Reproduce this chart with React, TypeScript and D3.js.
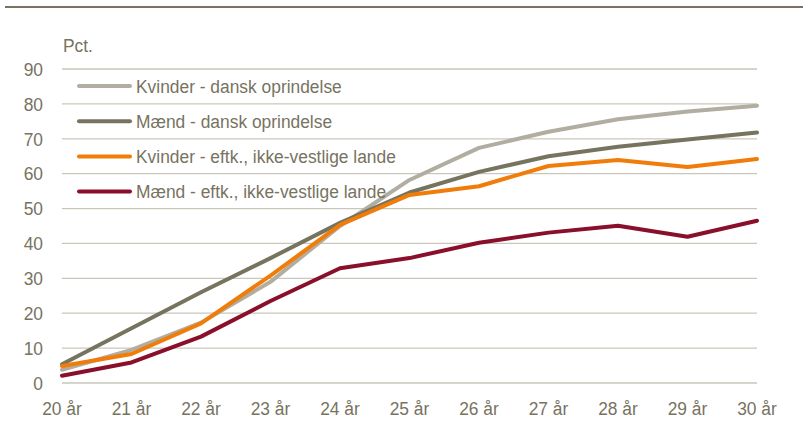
import React from "react";
import * as d3 from "d3";

const categories = ["20 år", "21 år", "22 år", "23 år", "24 år", "25 år", "26 år", "27 år", "28 år", "29 år", "30 år"];
const kvinderDansk = [3.8, 9.5, 17.3, 29.0, 45.0, 58.2, 67.4, 72.0, 75.6, 77.8, 79.5];
const maendDansk = [5.4, 15.7, 26.0, 35.8, 45.9, 54.6, 60.5, 65.0, 67.7, 69.8, 71.8];
const kvinderEftk = [4.9, 8.3, 17.1, 30.8, 45.3, 53.9, 56.4, 62.2, 63.9, 61.9, 64.2];
const maendEftk = [2.1, 5.9, 13.3, 23.5, 32.9, 35.8, 40.2, 43.1, 45.1, 41.9, 46.5];
const yTicks = [0, 10, 20, 30, 40, 50, 60, 70, 80, 90];

const series = [
  { name: "Kvinder - dansk oprindelse", values: kvinderDansk, color: "#b1aea1" },
  { name: "Mænd - dansk oprindelse", values: maendDansk, color: "#76745f" },
  { name: "Kvinder - eftk., ikke-vestlige lande", values: kvinderEftk, color: "#f07c0a" },
  { name: "Mænd - eftk., ikke-vestlige lande", values: maendEftk, color: "#8a0f2a" },
];

const W = 803;
const H = 432;
const textColor = "#77735f";
const font = "'Liberation Sans', Arial, sans-serif";
const SX = 0.915;

function T({ x, y, anchor = "start", size = 19, children }: { x: number; y: number; anchor?: string; size?: number; children: React.ReactNode }) {
  return (
    <text
      transform={`translate(${x},${y}) scale(${SX},1)`}
      textAnchor={anchor}
      fontFamily={font}
      fontSize={size}
      fill={textColor}
    >
      {children}
    </text>
  );
}

export default function App() {
  const x = d3.scalePoint<string>().domain(categories).range([62, 757]);
  const y = d3.scaleLinear().domain([0, 90]).range([383, 69]);
  const line = d3
    .line<number>()
    .x((_, i) => x(categories[i]) as number)
    .y((d) => y(d));

  return (
    <svg width={W} height={H} style={{ position: "absolute", left: 0, top: 0, background: "#fff" }}>
      <line x1={5} x2={803} y1={7} y2={7} stroke={textColor} strokeWidth={2} />
      <T x={63} y={52}>Pct.</T>
      {yTicks.map((t) => (
        <g key={t}>
          <line x1={62} x2={757} y1={y(t)} y2={y(t)} stroke="#c9c7bb" strokeWidth={1.3} />
          <T x={43} y={y(t) + 6.8} anchor="end">{String(t)}</T>
        </g>
      ))}
      {categories.map((c) => (
        <T key={c} x={x(c) as number} y={415} anchor="middle">{c}</T>
      ))}
      {series.map((s) => (
        <path key={s.name} d={line(s.values) || ""} fill="none" stroke={s.color} strokeWidth={4} strokeLinejoin="round" strokeLinecap="round" />
      ))}
      {series.map((s, i) => (
        <g key={"lg" + s.name}>
          <line x1={79} x2={130} y1={86 + i * 35.2} y2={86 + i * 35.2} stroke={s.color} strokeWidth={4} strokeLinecap="round" />
          <T x={136} y={86 + i * 35.2 + 6.8}>{s.name}</T>
        </g>
      ))}
    </svg>
  );
}
